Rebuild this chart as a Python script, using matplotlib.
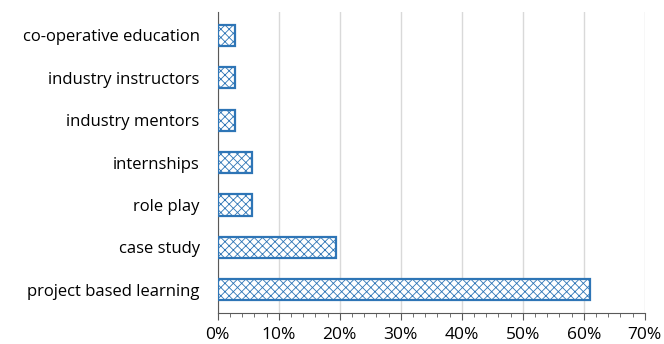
import matplotlib.pyplot as plt
from matplotlib.ticker import MultipleLocator, PercentFormatter

# categories, bottom to top
methods = [
    "project based learning", "case study", "role play", "internships",
    "industry mentors", "industry instructors", "co-operative education"
]
shares = [61.1, 19.4, 5.6, 5.6, 2.8, 2.8, 2.8]

plt.rcParams['font.family'] = ['Open Sans', 'DejaVu Sans']
plt.rcParams['hatch.linewidth'] = 0.6

fig, ax = plt.subplots(figsize=(6.64, 3.44), dpi=100)
fig.subplots_adjust(left=0.328, right=0.971, top=0.965, bottom=0.09)

ax.barh(methods, shares, height=0.5, color='white', edgecolor='#2E75B6',
        linewidth=1.6, hatch='xxxx', zorder=3)

ax.set_xlim(0, 70)
ax.set_ylim(-0.55, 6.55)
ax.xaxis.set_major_locator(MultipleLocator(10))
ax.xaxis.set_minor_locator(MultipleLocator(2))
ax.xaxis.set_major_formatter(PercentFormatter(decimals=0))
ax.grid(axis='x', color='#D9D9D9', linewidth=1, zorder=0)

for side in ['top', 'right']:
    ax.spines[side].set_visible(False)
ax.spines['left'].set_color('#595959')
ax.spines['bottom'].set_color('#595959')
ax.tick_params(axis='y', length=0, labelsize=12, pad=13)
ax.tick_params(axis='x', which='major', length=5, color='#595959',
               labelsize=12.5, pad=5)
ax.tick_params(axis='x', which='minor', length=3, color='#595959')

plt.savefig('out.png')
